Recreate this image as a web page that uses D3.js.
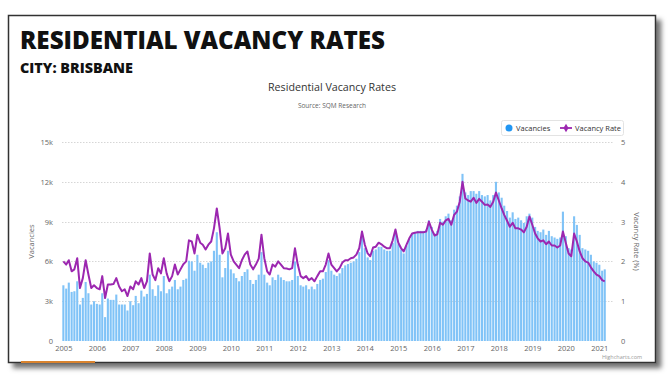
<!DOCTYPE html>
<html>
<head>
<meta charset="utf-8">
<script src="https://cdn.jsdelivr.net/npm/d3@7"></script>
<style>
body { margin: 0; background: #fff; }
svg text { font-family: "Open Sans", sans-serif; }
</style>
</head>
<body>
<div id="chart"></div>
<script>
// monthly values, Jan 2005 .. Mar 2021
var vacancies = [
    4200, 3950, 4400, 3700, 3750, 4500, 2750, 3250, 4450, 3600, 2750, 3000,
    2800, 2750, 3600, 1800, 3200, 3100, 3100, 3500, 2750, 2750, 2750, 2300,
    3000, 2700, 3400, 2850, 3800, 3350, 3550, 5000, 3900, 3400, 4200, 3750,
    4900, 3600, 3900, 4100, 4600, 3900, 4100, 4600, 4700, 6050, 6000, 5300,
    6500, 5900, 5750, 5500, 5900, 6000, 6800, 8200, 6500, 4800, 5500, 6800,
    5400, 5100, 4750, 4500, 4900, 5200, 5400, 4600, 4300, 4600, 5000, 6700,
    5000, 4400, 4200, 4800, 4600, 5000, 4800, 4600, 4500, 4500, 4600, 6000,
    4900, 4200, 4100, 4200, 3900, 4100, 3900, 4300, 4600, 4700, 5200, 6100,
    5300, 5000, 4900, 5100, 5500, 5700, 5800, 5900, 6000, 6200, 6700, 7900,
    7000, 6300, 6100, 6800, 6900, 7100, 7100, 6900, 6800, 6800, 7400, 8300,
    7300, 6900, 6600, 7200, 7700, 8100, 8200, 8300, 8300, 8300, 8400, 9100,
    8600, 8100, 8300, 9200, 9000, 9400, 9600, 9100, 9900, 10200, 10900, 12600,
    11200, 11000, 11300, 11300, 11100, 11300, 11000, 10900, 11000, 10600, 11000, 12000,
    11200, 10800, 10200, 9800, 9300, 9700, 9200, 9300, 9100, 8900, 9400, 9600,
    9300, 8600, 8300, 8200, 8400, 8000, 8300, 7900, 7800, 7700, 7800, 9750,
    7900, 7000, 6900, 9400, 8750, 8000, 7000, 6900, 6800, 6500, 6000, 5900,
    5750, 5300, 5400
];
var vacancyRate = [
    2.00, 1.92, 2.03, 1.75, 1.80, 2.08, 1.33, 1.58, 2.03, 1.67, 1.33, 1.40,
    1.33, 1.30, 1.63, 1.08, 1.42, 1.42, 1.43, 1.58, 1.37, 1.25, 1.30, 1.13,
    1.37, 1.30, 1.50, 1.42, 1.58, 1.33, 1.50, 2.20, 1.67, 1.53, 1.83, 1.70,
    2.08, 1.70, 1.50, 1.63, 1.92, 1.67, 1.80, 1.93, 2.00, 2.53, 2.50, 2.20,
    2.67, 2.47, 2.42, 2.30, 2.42, 2.50, 2.83, 3.33, 2.83, 2.20, 2.33, 2.70,
    2.17, 2.00, 1.92, 1.83, 2.03, 2.17, 2.25, 1.92, 1.80, 1.92, 2.07, 2.67,
    2.08, 1.75, 1.67, 1.92, 1.87, 2.00, 1.92, 1.83, 1.82, 1.80, 1.83, 2.33,
    1.92, 1.63, 1.58, 1.63, 1.53, 1.58, 1.50, 1.63, 1.75, 1.75, 1.92, 2.20,
    1.92, 1.83, 1.75, 1.83, 1.97, 2.03, 2.03, 2.08, 2.10, 2.17, 2.33, 2.75,
    2.42, 2.20, 2.13, 2.35, 2.37, 2.47, 2.43, 2.37, 2.33, 2.33, 2.53, 2.80,
    2.47, 2.33, 2.25, 2.42, 2.58, 2.70, 2.72, 2.73, 2.73, 2.73, 2.75, 3.00,
    2.80, 2.65, 2.68, 2.97, 2.92, 3.03, 3.07, 2.92, 3.17, 3.25, 3.50, 4.00,
    3.58, 3.53, 3.50, 3.60, 3.47, 3.57, 3.50, 3.42, 3.43, 3.37, 3.50, 3.73,
    3.53, 3.33, 3.17, 3.02, 2.87, 2.97, 2.83, 2.83, 2.80, 2.73, 2.87, 3.13,
    2.92, 2.70, 2.58, 2.50, 2.53, 2.43, 2.50, 2.40, 2.40, 2.35, 2.40, 2.75,
    2.47, 2.20, 2.13, 2.70, 2.50, 2.25, 2.08, 2.00, 1.97, 1.85, 1.75, 1.67,
    1.63, 1.53, 1.50
];
var leftTicks = [0, 3000, 6000, 9000, 12000, 15000];
var leftTickLabels = ["0", "3k", "6k", "9k", "12k", "15k"];
var rightTicks = [0, 1, 2, 3, 4, 5];
var rightTickLabels = ["0", "1", "2", "3", "4", "5"];
var yearLabels = ["2005", "2006", "2007", "2008", "2009", "2010", "2011", "2012", "2013",
    "2014", "2015", "2016", "2017", "2018", "2019", "2020", "2021"];

var months = d3.timeMonth.range(new Date(2005, 0, 1), new Date(2021, 3, 1));

var W = 671, H = 375;
var plot = { left: 62, right: 614, top: 142, bottom: 341 };

var svg = d3.select("#chart")
    .append("svg")
    .attr("width", W)
    .attr("height", H);

// frame with shadow
var defs = svg.append("defs");
var shadow = defs.append("filter").attr("id", "shadow")
    .attr("x", "-5%").attr("y", "-5%").attr("width", "115%").attr("height", "115%");
shadow.append("feDropShadow")
    .attr("dx", 5).attr("dy", 5).attr("stdDeviation", 2.5)
    .attr("flood-color", "#000").attr("flood-opacity", 0.55);

svg.append("rect")
    .attr("x", 8.5).attr("y", 15.5)
    .attr("width", 647).attr("height", 347)
    .attr("fill", "#fff")
    .attr("stroke", "#333")
    .attr("stroke-width", 1.5)
    .attr("filter", "url(#shadow)");

svg.append("line")
    .attr("x1", 21).attr("x2", 95)
    .attr("y1", 362).attr("y2", 362)
    .attr("stroke", "#d9832e")
    .attr("stroke-width", 2);

// headings
svg.append("text")
    .attr("x", 20).attr("y", 49)
    .attr("textLength", 365).attr("lengthAdjust", "spacingAndGlyphs")
    .style("font-size", "25px").style("font-weight", 800)
    .attr("fill", "#111")
    .text("RESIDENTIAL VACANCY RATES");

svg.append("text")
    .attr("x", 20).attr("y", 73)
    .attr("textLength", 113).attr("lengthAdjust", "spacingAndGlyphs")
    .style("font-size", "14px").style("font-weight", 800)
    .attr("fill", "#111")
    .text("CITY: BRISBANE");

svg.append("text")
    .attr("x", 332).attr("y", 91)
    .attr("text-anchor", "middle")
    .attr("textLength", 128).attr("lengthAdjust", "spacingAndGlyphs")
    .style("font-size", "11.5px")
    .attr("fill", "#333")
    .text("Residential Vacancy Rates");

svg.append("text")
    .attr("x", 332).attr("y", 108)
    .attr("text-anchor", "middle")
    .style("font-size", "6.5px")
    .attr("fill", "#666")
    .text("Source: SQM Research");

// scales
var x = d3.scaleTime()
    .domain([new Date(2004, 11, 17), new Date(2021, 5, 10)])
    .range([plot.left, plot.right]);

var y = d3.scaleLinear().domain([0, 15000]).range([plot.bottom, plot.top]);
var yr = d3.scaleLinear().domain([0, 5]).range([plot.bottom, plot.top]);

// grid
svg.append("g").selectAll("line")
    .data(leftTicks.slice(1))
    .enter()
    .append("line")
    .attr("x1", plot.left).attr("x2", plot.right)
    .attr("y1", function (d) { return Math.round(y(d)) + 0.5; })
    .attr("y2", function (d) { return Math.round(y(d)) + 0.5; })
    .attr("stroke", "#d6d6d6")
    .attr("stroke-dasharray", "1.5,1.5");

// axes
var yAxisL = d3.axisLeft(y)
    .tickValues(leftTicks)
    .tickFormat(function (d, i) { return leftTickLabels[i]; })
    .tickSize(0).tickPadding(9);

var gL = svg.append("g")
    .attr("transform", "translate(" + plot.left + ",0)")
    .call(yAxisL);

var yAxisR = d3.axisRight(yr)
    .tickValues(rightTicks)
    .tickFormat(function (d, i) { return rightTickLabels[i]; })
    .tickSize(0).tickPadding(7);

var gR = svg.append("g")
    .attr("transform", "translate(" + plot.right + ",0)")
    .call(yAxisR);

var xAxis = d3.axisBottom(x)
    .tickValues(yearLabels.map(function (d) { return new Date(+d, 0, 1); }))
    .tickFormat(function (d, i) { return yearLabels[i]; })
    .tickSize(0).tickPadding(5);

var gX = svg.append("g")
    .attr("transform", "translate(0," + plot.bottom + ")")
    .call(xAxis);

[gL, gR, gX].forEach(function (g) {
    g.select(".domain").remove();
    g.selectAll("text")
        .style("font-size", "7.5px")
        .style("font-family", "'Open Sans', sans-serif")
        .attr("fill", "#666");
});

svg.append("text")
    .attr("transform", "translate(34," + (plot.top + plot.bottom) / 2 + ") rotate(-90)")
    .attr("text-anchor", "middle")
    .style("font-size", "7.5px")
    .attr("fill", "#666")
    .text("Vacancies");

svg.append("text")
    .attr("transform", "translate(634," + (plot.top + plot.bottom) / 2 + ") rotate(90)")
    .attr("text-anchor", "middle")
    .style("font-size", "7.5px")
    .attr("fill", "#666")
    .text("Vacancy Rate (%)");

// bars
var bw = 2.1;
svg.append("g").selectAll("rect")
    .data(vacancies)
    .enter()
    .append("rect")
    .attr("x", function (d, i) { return x(months[i]) - bw / 2; })
    .attr("y", function (d) { return y(d); })
    .attr("width", bw)
    .attr("height", function (d) { return plot.bottom - y(d); })
    .attr("fill", "#80c3f7");

// rate line
var line = d3.line()
    .x(function (d, i) { return x(months[i]); })
    .y(function (d) { return yr(d); });

svg.append("path")
    .datum(vacancyRate)
    .attr("d", line)
    .attr("fill", "none")
    .attr("stroke", "#9c27b0")
    .attr("stroke-width", 2)
    .attr("stroke-linejoin", "round");

// legend
var lg = svg.append("g").attr("transform", "translate(501,120)");
lg.append("rect")
    .attr("x", 0.5).attr("y", 0.5)
    .attr("width", 122).attr("height", 15)
    .attr("rx", 2)
    .attr("fill", "#fff")
    .attr("stroke", "#e3e3e3");
lg.append("circle")
    .attr("cx", 8).attr("cy", 8).attr("r", 3.5)
    .attr("fill", "#2196f3");
lg.append("text")
    .attr("x", 15).attr("y", 10.5)
    .style("font-size", "7.5px")
    .attr("fill", "#333")
    .text("Vacancies");
lg.append("line")
    .attr("x1", 59).attr("x2", 71)
    .attr("y1", 8).attr("y2", 8)
    .attr("stroke", "#9c27b0").attr("stroke-width", 1.8);
lg.append("path")
    .attr("d", d3.symbol().type(d3.symbolDiamond).size(22))
    .attr("transform", "translate(65,8)")
    .attr("fill", "#9c27b0");
lg.append("text")
    .attr("x", 74).attr("y", 10.5)
    .style("font-size", "7.5px")
    .attr("fill", "#333")
    .text("Vacancy Rate");

svg.append("text")
    .attr("x", 622).attr("y", 359)
    .attr("text-anchor", "middle")
    .style("font-size", "5.5px")
    .attr("fill", "#999")
    .text("Highcharts.com");
</script>
</body>
</html>
